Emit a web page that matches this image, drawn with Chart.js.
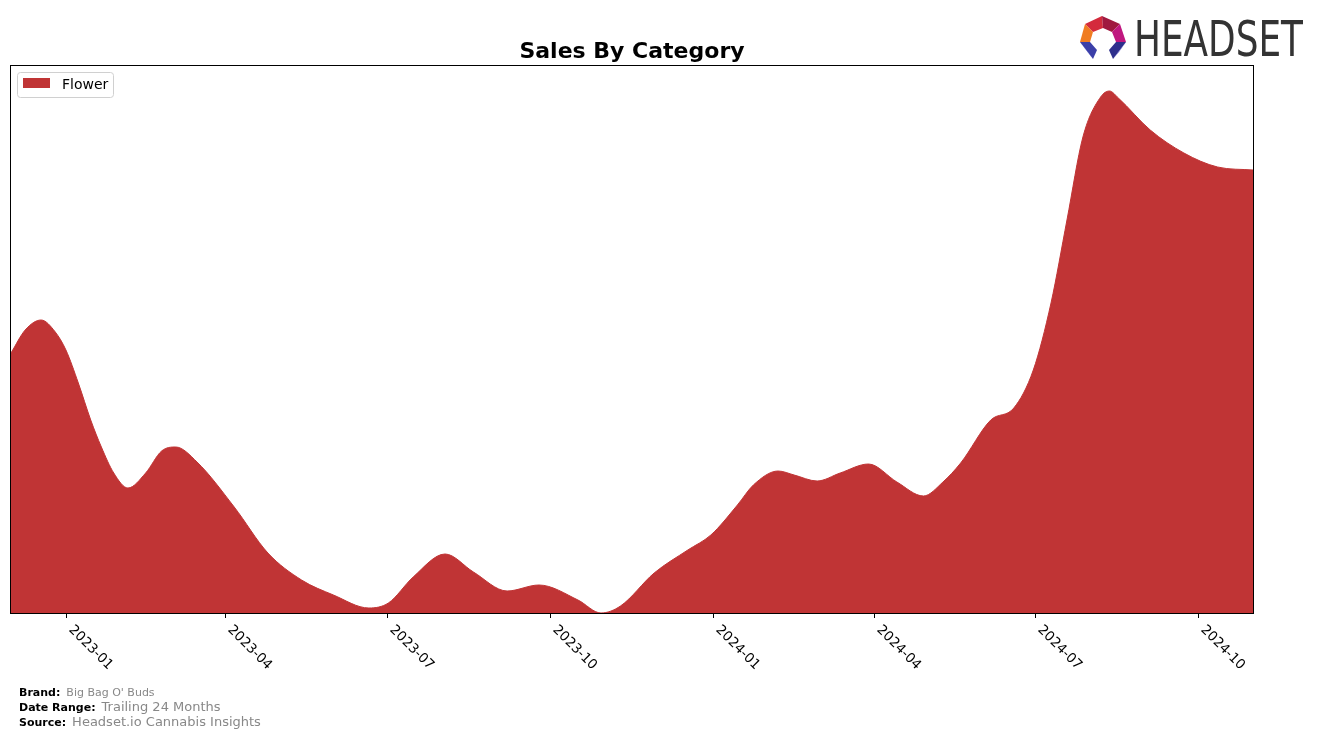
<!DOCTYPE html>
<html>
<head>
<meta charset="utf-8">
<script src="https://cdn.jsdelivr.net/npm/chart.js@4.4.1/dist/chart.umd.min.js"></script>
<style>
  html, body { margin: 0; padding: 0; background: #fff; }
  #wrap { width: 1317px; height: 739px; position: relative; }
</style>
</head>
<body>
<div id="wrap"><canvas id="c" width="1317" height="739"></canvas></div>
<script>
// ---- Data ----
const dates = [
  '2022-12-01','2022-12-09','2022-12-18','2022-12-26','2023-01-01','2023-01-08','2023-01-15','2023-01-21',
  '2023-01-28','2023-02-05','2023-02-15','2023-02-24','2023-03-04','2023-03-16','2023-04-06','2023-04-25',
  '2023-05-14','2023-06-01','2023-06-21','2023-07-02','2023-07-16','2023-08-03','2023-08-19','2023-09-07',
  '2023-09-25','2023-10-17','2023-10-30','2023-11-10','2023-11-29','2023-12-18','2023-12-31','2024-01-15',
  '2024-01-24','2024-02-07','2024-02-16','2024-02-29','2024-03-13','2024-03-29','2024-04-14','2024-04-29',
  '2024-05-10','2024-05-20','2024-06-06','2024-06-19','2024-06-30','2024-07-10','2024-07-19','2024-07-28',
  '2024-08-07','2024-08-12','2024-08-17','2024-09-04','2024-09-23','2024-10-12','2024-11-01'
];
const flower = [
  260, 283, 293, 281, 263, 230, 193, 166,
  140, 125, 140, 162, 166, 151, 106, 60,
  33, 18, 5, 10, 36, 59, 41, 22,
  28, 13, 0, 7, 40, 63, 78, 108,
  128, 142, 138, 132, 140, 149, 131, 117,
  131, 150, 193, 205, 243, 310, 393, 476,
  516, 522, 515, 483, 460, 446, 443
];
const tickDates  = ['2023-01-01','2023-04-01','2023-07-01','2023-10-01','2024-01-01','2024-04-01','2024-07-01','2024-10-01'];
const tickLabels = ['2023-01','2023-04','2023-07','2023-10','2024-01','2024-04','2024-07','2024-10'];
const seriesName = 'Flower';
const chartTitle = 'Sales By Category';
const brand = "Big Bag O' Buds";
const dateRange = 'Trailing 24 Months';
const source = 'Headset.io Cannabis Insights';

const START = Date.UTC(2022, 11, 1);
function dayOf(s) {
  const p = s.split('-').map(Number);
  return (Date.UTC(p[0], p[1] - 1, p[2]) - START) / 86400000;
}
const END_DAY = dayOf('2024-11-01');
const FILL = '#C03435';

const decor = {
  id: 'decor',
  afterDraw(chart) {
    const ctx = chart.ctx;
    const a = chart.chartArea;
    const xs = chart.scales.x;
    ctx.save();
    // frame
    ctx.strokeStyle = '#000';
    ctx.lineWidth = 1;
    ctx.strokeRect(Math.round(a.left) - 0.5, Math.round(a.top) - 0.5, Math.round(a.right - a.left) + 1, Math.round(a.bottom - a.top) + 1);
    // ticks + labels
    ctx.font = '13.5px "DejaVu Sans"';
    ctx.fillStyle = '#000';
    ctx.textBaseline = 'top';
    ctx.textAlign = 'left';
    tickDates.forEach((d, i) => {
      const x = Math.round(xs.getPixelForValue(dayOf(d))) + 0.5;
      ctx.beginPath();
      ctx.moveTo(x, a.bottom);
      ctx.lineTo(x, a.bottom + 5);
      ctx.stroke();
      ctx.save();
      ctx.translate(x + 9, a.bottom + 10);
      ctx.rotate(Math.PI / 4);
      ctx.fillText(tickLabels[i], 0, 0);
      ctx.restore();
    });
    // title
    ctx.font = 'bold 22px "DejaVu Sans"';
    ctx.textAlign = 'center';
    ctx.textBaseline = 'alphabetic';
    ctx.fillText(chartTitle, (a.left + a.right) / 2, 58);
    // legend
    ctx.beginPath();
    ctx.lineWidth = 1;
    ctx.strokeStyle = '#d0d0d0';
    ctx.roundRect(17.5, 72.5, 96, 25, 3);
    ctx.fillStyle = 'rgba(255,255,255,0.8)';
    ctx.fill();
    ctx.stroke();
    ctx.fillStyle = FILL;
    ctx.fillRect(23, 78, 27, 10);
    ctx.fillStyle = '#000';
    ctx.font = '14px "DejaVu Sans"';
    ctx.textAlign = 'left';
    ctx.textBaseline = 'middle';
    ctx.fillText(seriesName, 62, 85);
    // footer
    ctx.textBaseline = 'middle';
    function pair(label, value, y, lsize, vsize) {
      ctx.font = 'bold ' + lsize + 'px "DejaVu Sans"';
      ctx.fillStyle = '#000';
      ctx.fillText(label, 19, y);
      const w = ctx.measureText(label).width;
      ctx.font = vsize + 'px "DejaVu Sans"';
      ctx.fillStyle = '#888';
      ctx.fillText(value, 19 + w + 6, y);
    }
    pair('Brand:', brand, 693, 11, 11);
    pair('Date Range:', dateRange, 708, 11, 13);
    pair('Source:', source, 723, 11, 13);
    // logo icon
    const poly = (pts, col) => {
      ctx.beginPath();
      ctx.moveTo(pts[0][0], pts[0][1]);
      for (let k = 1; k < pts.length; k++) ctx.lineTo(pts[k][0], pts[k][1]);
      ctx.closePath();
      ctx.fillStyle = col;
      ctx.fill();
    };
    poly([[1085,24],[1102,16],[1103,28],[1093,32]], '#d42a3c');
    poly([[1102,16],[1120,24],[1112,32],[1103,28]], '#a0183f');
    poly([[1085,24],[1093,32],[1090,42],[1080,42]], '#f07c22');
    poly([[1120,24],[1126,42],[1116,42],[1112,32]], '#c0177f');
    poly([[1080,42],[1090,42],[1097,50],[1093,59]], '#3b3fa8');
    poly([[1080,42],[1093,59],[1088,52]], '#6a6ad6');
    poly([[1126,42],[1116,42],[1109,50],[1113,59]], '#2e2f8c');
    poly([[1126,42],[1113,59],[1119,52]], '#6a5fd0');
    // logo text
    ctx.save();
    ctx.font = '50px "DejaVu Sans"';
    ctx.fillStyle = '#333';
    ctx.textAlign = 'left';
    ctx.textBaseline = 'alphabetic';
    const tw = ctx.measureText('HEADSET').width;
    ctx.translate(1134, 56);
    ctx.scale(169 / tw, 1);
    ctx.fillText('HEADSET', 0, 0);
    ctx.restore();
    ctx.restore();
  }
};

new Chart(document.getElementById('c'), {
  type: 'line',
  data: {
    datasets: [{
      label: seriesName,
      data: dates.map((d, i) => ({ x: dayOf(d), y: flower[i] })),
      backgroundColor: FILL,
      borderColor: FILL,
      borderWidth: 1,
      fill: 'origin',
      pointRadius: 0,
      cubicInterpolationMode: 'monotone'
    }]
  },
  options: {
    responsive: false,
    animation: false,
    devicePixelRatio: 1,
    layout: { padding: { left: 11, right: 64, top: 66, bottom: 126 } },
    scales: {
      x: { type: 'linear', min: 0, max: END_DAY, display: false },
      y: { min: 0, max: 547, display: false }
    },
    plugins: { legend: { display: false }, title: { display: false }, tooltip: { enabled: false } }
  },
  plugins: [decor]
});
</script>
</body>
</html>
